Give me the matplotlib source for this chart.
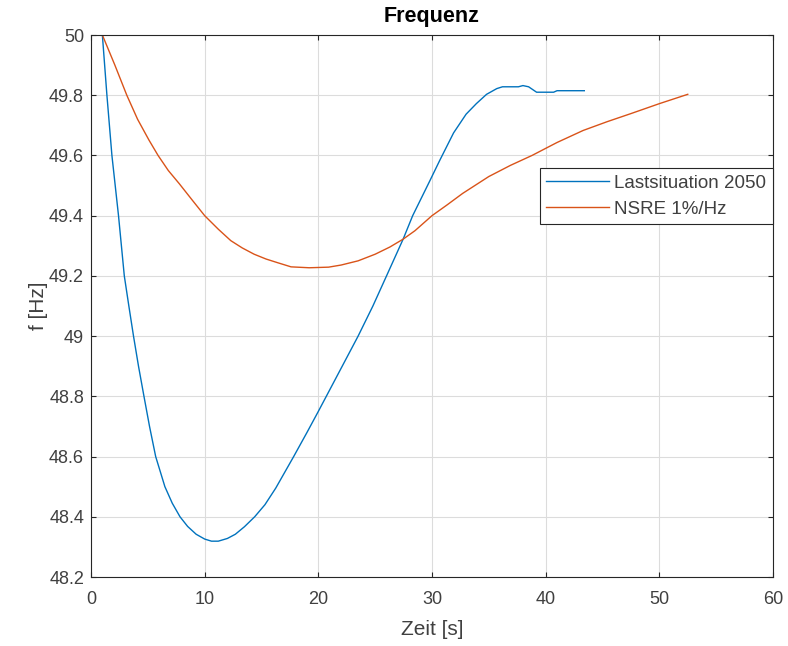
import matplotlib
matplotlib.use("Agg")
import matplotlib.pyplot as plt

plt.rcParams['font.family'] = ['Liberation Sans', 'DejaVu Sans']

# Data
t_last = [0, 1.0, 1.4, 1.84, 2.42, 2.93, 3.33, 3.74, 4.18, 4.66, 5.15, 5.69, 6.5, 7.15, 7.83,
          8.5, 9.25, 10.0, 10.6, 11.2, 12.0, 12.7, 13.5, 14.4, 15.3, 16.25, 17.83, 19.0, 20.0,
          20.7, 22.1, 23.5, 24.8, 26.0, 27.46, 28.3, 29.8, 30.7, 31.9, 33.0, 33.9, 34.8,
          35.7, 36.2, 37.6, 38.0, 38.5, 39.2, 40.7, 41.0, 43.4]
f_last = [50, 50, 49.8, 49.6, 49.4, 49.2, 49.1, 49.0, 48.9, 48.8, 48.7, 48.6, 48.5, 48.445,
          48.4, 48.368, 48.342, 48.326, 48.319, 48.319, 48.328, 48.342, 48.367, 48.4, 48.44,
          48.495, 48.6, 48.68, 48.75, 48.8, 48.9, 49.0, 49.1, 49.2, 49.322, 49.4, 49.515,
          49.585, 49.675, 49.737, 49.772, 49.803, 49.822, 49.828, 49.828, 49.832, 49.828,
          49.81, 49.81, 49.815, 49.815]

t_nsre = [0, 1.0, 2.1, 3.15, 4.1, 5.1, 5.9, 6.8, 7.77, 8.9, 10.0, 11.2, 12.3, 13.3, 14.35,
          15.4, 16.4, 17.6, 19.2, 20.9, 22.0, 23.5, 25.0, 26.3, 27.46, 28.5, 30.0, 31.3,
          32.7, 35.0, 36.9, 38.8, 41.0, 43.3, 45.4, 47.5, 50.0, 52.5]
f_nsre = [50, 50, 49.9, 49.8, 49.72, 49.651, 49.6, 49.55, 49.506, 49.452, 49.4, 49.355,
          49.317, 49.293, 49.272, 49.256, 49.244, 49.23, 49.227, 49.229, 49.236, 49.25,
          49.272, 49.296, 49.322, 49.35, 49.4, 49.435, 49.474, 49.53, 49.567, 49.6, 49.643,
          49.683, 49.712, 49.739, 49.772, 49.803]

labels = ['Lastsituation 2050', 'NSRE 1%/Hz']
xticks = [0, 10, 20, 30, 40, 50, 60]
yticks = [48.2, 48.4, 48.6, 48.8, 49.0, 49.2, 49.4, 49.6, 49.8, 50.0]
ytick_labels = ['48.2', '48.4', '48.6', '48.8', '49', '49.2', '49.4', '49.6', '49.8', '50']

fig = plt.figure(figsize=(7.88, 6.46), dpi=100)
ax = fig.add_axes([91/788, 1 - 577/646, (773 - 91)/788, (577 - 35)/646])

ax.plot(t_last, f_last, color='#0072BD', lw=1.0, label=labels[0])
ax.plot(t_nsre, f_nsre, color='#D95319', lw=1.0, label=labels[1])

ax.set_xlim(0, 60)
ax.set_ylim(48.2, 50)
ax.set_xticks(xticks)
ax.set_yticks(yticks)
ax.set_yticklabels(ytick_labels)

axc = '#262626'
tc = '#404040'
ax.grid(True, color='#dcdcdc', lw=0.8)
ax.set_axisbelow(True)
for s in ax.spines.values():
    s.set_color(axc)
    s.set_linewidth(0.8)
ax.tick_params(direction='in', length=3.8, width=0.8, colors=axc, labelcolor=tc,
               labelsize=13, top=True, right=True)
ax.tick_params(axis='x', pad=10)
ax.tick_params(axis='y', pad=5)

ax.set_xlabel('Zeit [s]', fontsize=15, color=tc, labelpad=9)
ax.set_ylabel('f [Hz]', fontsize=15, color=tc, labelpad=1)
ax.set_title('Frequenz', fontsize=15.5, fontweight='bold', color='black', pad=9.5)

leg = ax.legend(loc='upper right', bbox_to_anchor=(1.0, 0.754), fontsize=13.5,
                frameon=True, fancybox=False, edgecolor=axc, framealpha=1,
                handlelength=3.34, borderpad=0.35, labelspacing=0.45, handletextpad=0.3,
                borderaxespad=0)
leg.get_frame().set_linewidth(0.8)
for txt in leg.get_texts():
    txt.set_color(tc)

fig.savefig('out.png', dpi=100)
